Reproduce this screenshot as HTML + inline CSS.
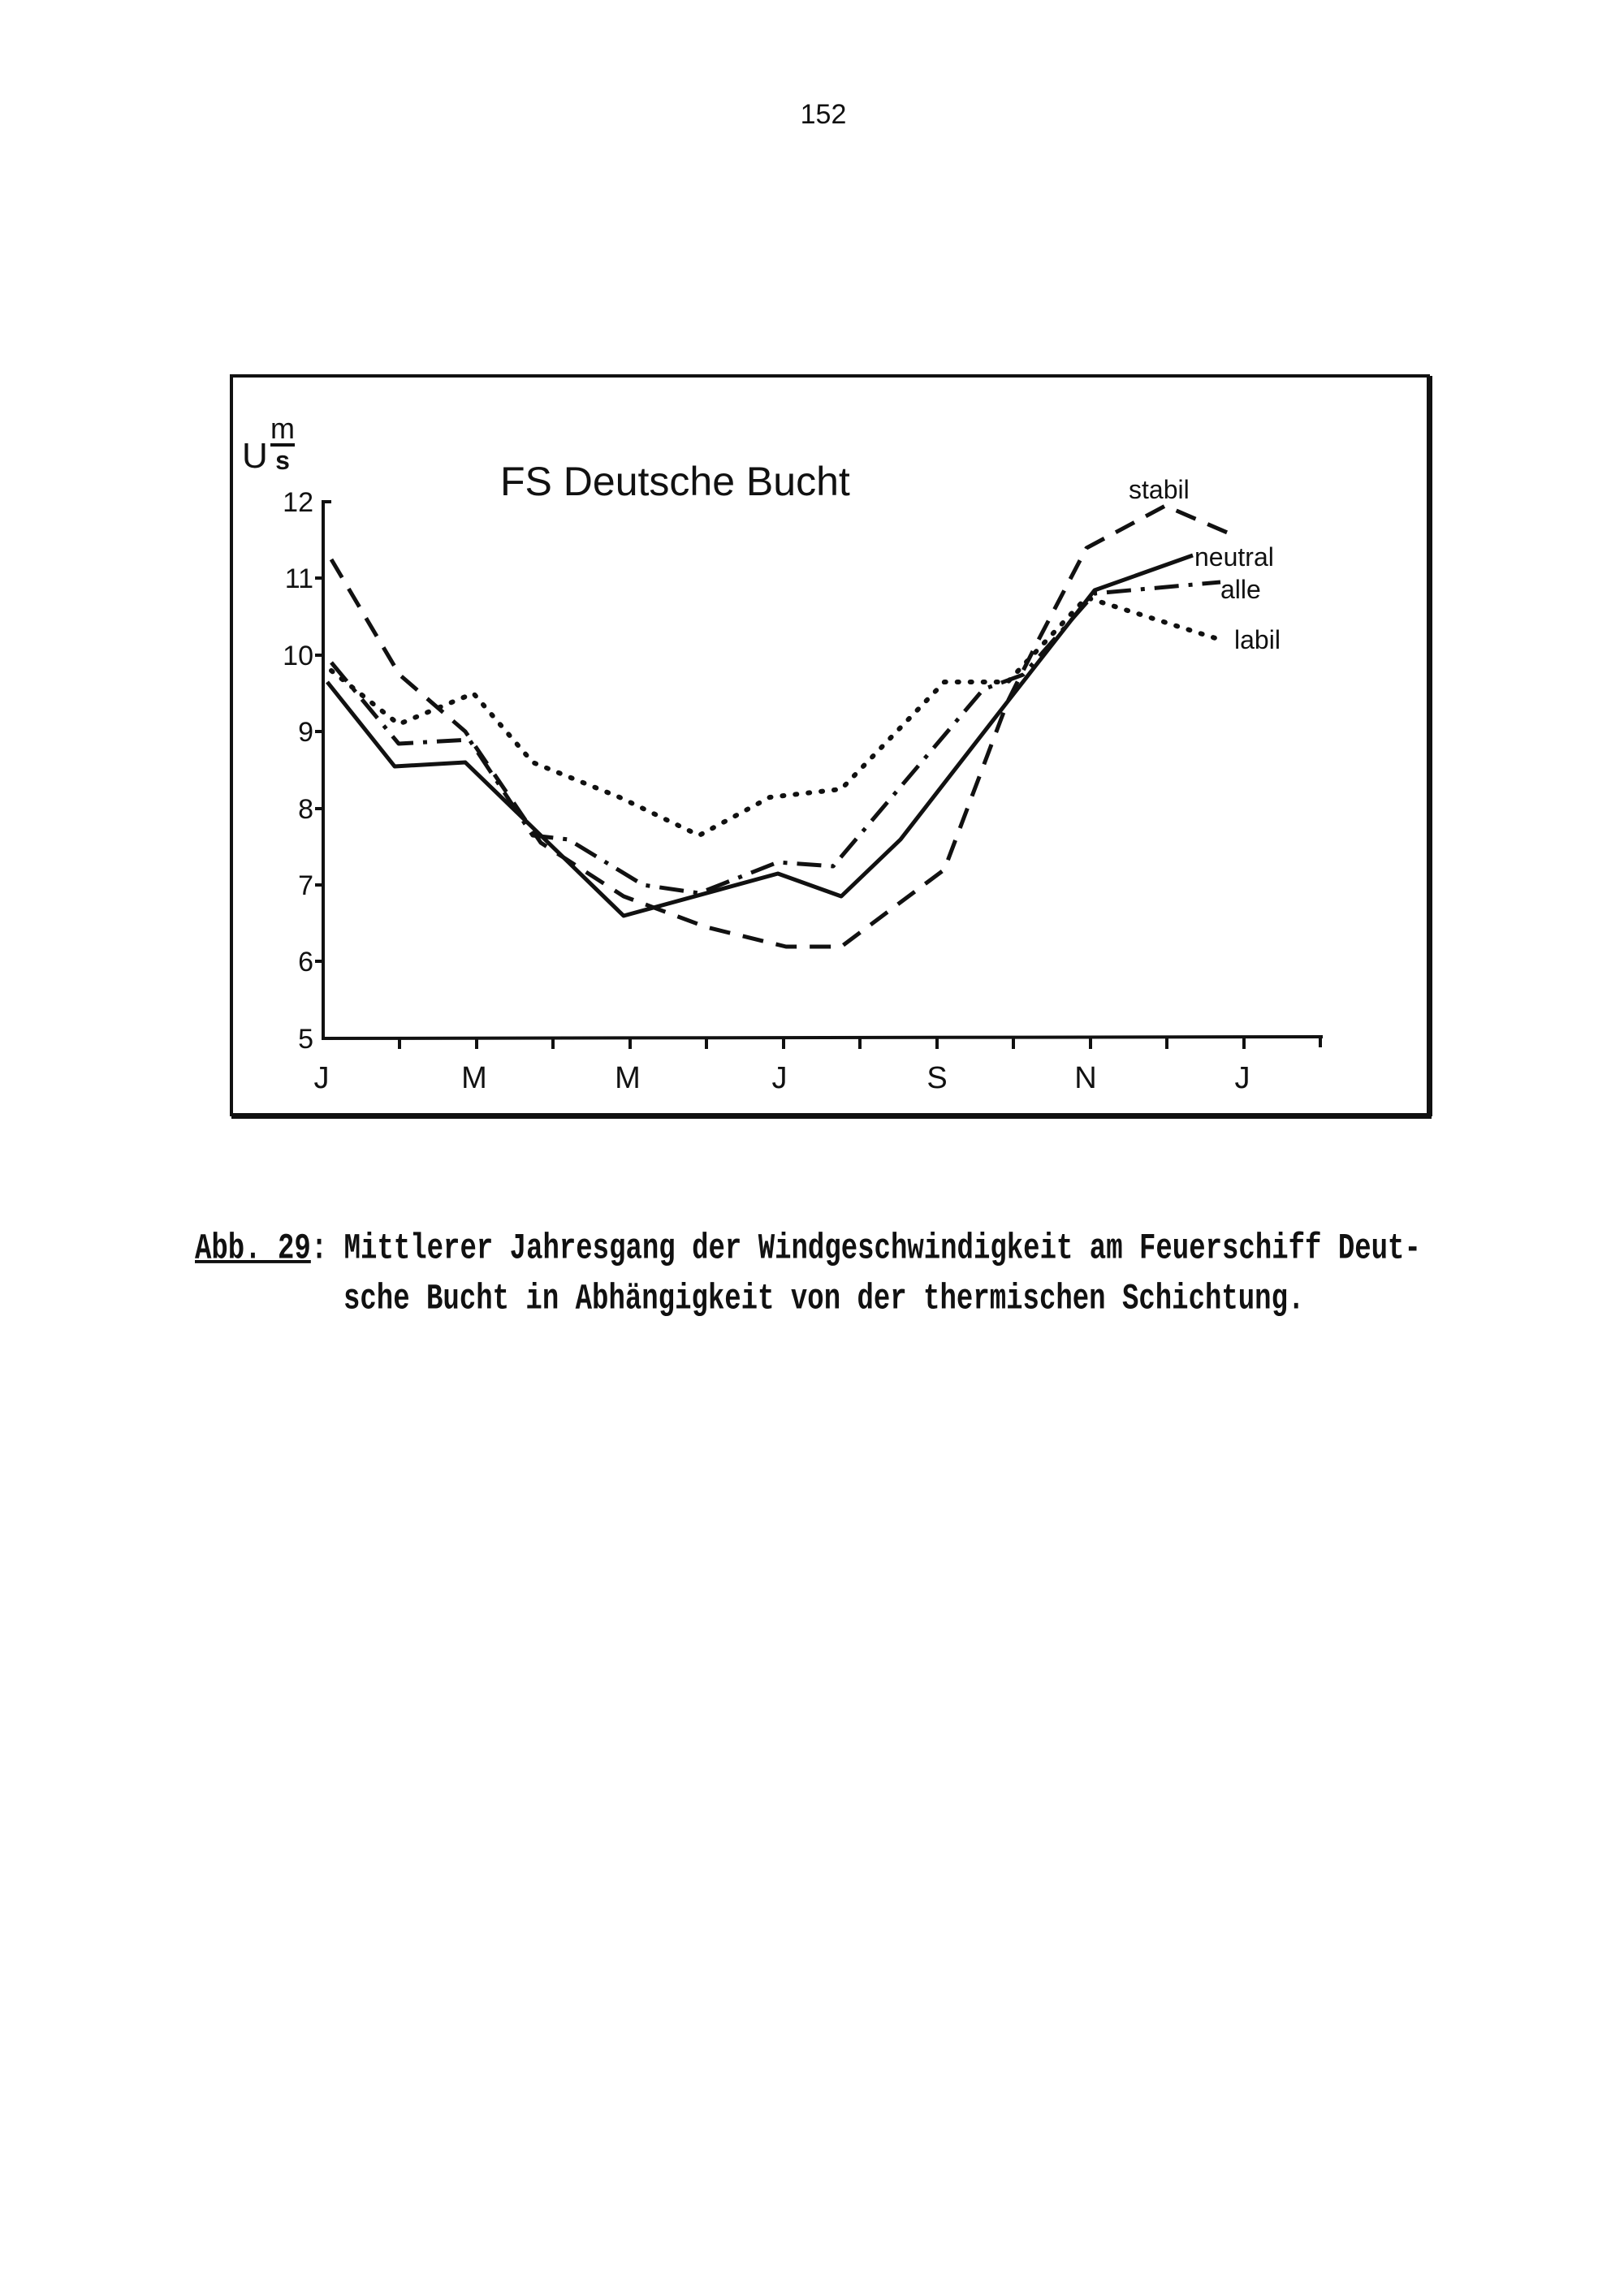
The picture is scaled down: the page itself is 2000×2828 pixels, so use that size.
<!DOCTYPE html>
<html><head><meta charset="utf-8"><style>
html,body{margin:0;padding:0;background:#fff;}
body{width:2000px;height:2828px;position:relative;overflow:hidden;}
.cap{position:absolute;font-family:"Liberation Mono",monospace;font-weight:bold;font-size:34px;color:#111;white-space:pre;transform:scaleY(1.3);transform-origin:left center;}
</style></head><body>
<svg width="2000" height="2828" viewBox="0 0 2000 2828" style="position:absolute;left:0;top:0" font-family="Liberation Sans, sans-serif" fill="#111">
<text x="1014" y="152" font-size="34" text-anchor="middle">152</text>
<rect x="285" y="463" width="1474" height="910" fill="none" stroke="#111" stroke-width="4"/>
<line x1="1761" y1="463" x2="1761" y2="1375" stroke="#111" stroke-width="6"/>
<line x1="285" y1="1375" x2="1763" y2="1375" stroke="#111" stroke-width="6"/>
<text x="616" y="610" font-size="50">FS Deutsche Bucht</text>
<text x="298" y="576" font-size="44">U</text>
<text x="348" y="540" font-size="36" text-anchor="middle">m</text>
<line x1="333" y1="548" x2="363" y2="548" stroke="#111" stroke-width="4"/>
<text x="348" y="578" font-size="32" text-anchor="middle" font-weight="bold">s</text>
<g stroke="#111" stroke-width="4" fill="none">
<line x1="398" y1="616" x2="398" y2="1281"/>
<line x1="396" y1="1279" x2="1629" y2="1277"/>
<line x1="398" y1="618" x2="408" y2="618"/>
<line x1="398" y1="618" x2="398" y2="628"/>
<line x1="388" y1="712" x2="398" y2="712"/>
<line x1="388" y1="807" x2="398" y2="807"/>
<line x1="388" y1="901" x2="398" y2="901"/>
<line x1="388" y1="996" x2="398" y2="996"/>
<line x1="388" y1="1090" x2="398" y2="1090"/>
<line x1="388" y1="1184" x2="398" y2="1184"/>
<line x1="492" y1="1279" x2="492" y2="1292"/>
<line x1="587" y1="1279" x2="587" y2="1292"/>
<line x1="681" y1="1279" x2="681" y2="1292"/>
<line x1="776" y1="1279" x2="776" y2="1292"/>
<line x1="870" y1="1279" x2="870" y2="1292"/>
<line x1="965" y1="1279" x2="965" y2="1292"/>
<line x1="1059" y1="1279" x2="1059" y2="1292"/>
<line x1="1154" y1="1279" x2="1154" y2="1292"/>
<line x1="1248" y1="1279" x2="1248" y2="1292"/>
<line x1="1343" y1="1279" x2="1343" y2="1292"/>
<line x1="1437" y1="1279" x2="1437" y2="1292"/>
<line x1="1532" y1="1279" x2="1532" y2="1292"/>
<line x1="1626" y1="1277" x2="1626" y2="1290"/>
</g>
<g font-size="34" text-anchor="end">
<text x="386" y="630">12</text><text x="386" y="724">11</text><text x="386" y="819">10</text>
<text x="386" y="913">9</text><text x="386" y="1008">8</text><text x="386" y="1102">7</text>
<text x="386" y="1196">6</text><text x="386" y="1291">5</text>
</g>
<g font-size="38" text-anchor="middle">
<text x="396" y="1340">J</text><text x="584" y="1340">M</text><text x="773" y="1340">M</text>
<text x="960" y="1340">J</text><text x="1154" y="1340">S</text><text x="1337" y="1340">N</text><text x="1530" y="1340">J</text>
</g>
<g fill="none" stroke="#111" stroke-width="5" stroke-linejoin="round">
<polyline points="408,689 492,831 573,901 666,1038 768,1104 870,1142 968,1166 1036,1166 1163,1071 1241,864 1279,788 1338,675 1435,623 1523,661" stroke-dasharray="26,16"/>
<polyline points="403,840 486,944 573,939 666,1029 768,1128 958,1076 1036,1104 1109,1034 1241,864 1348,727 1469,684"/>
<polyline points="408,816 491,916 578,911 656,1029 700,1034 792,1090 861,1100 958,1062 1026,1067 1211,849 1260,831 1348,731 1503,717" stroke-dasharray="30,12,5,12"/>
<polyline points="408,826 491,892 583,854 656,939 763,982 861,1029 948,982 1036,972 1163,840 1241,840 1338,736 1503,788" stroke-dasharray="2,14" stroke-linecap="round" stroke-width="6"/>
</g>
<g font-size="32">
<text x="1390" y="614">stabil</text>
<text x="1471" y="697">neutral</text>
<text x="1503" y="737">alle</text>
<text x="1520" y="799">labil</text>
</g>
</svg>
<div class="cap" style="left:240px;top:1520px;"><span style="text-decoration:underline">Abb. 29</span>: Mittlerer Jahresgang der Windgeschwindigkeit am Feuerschiff Deut-</div>
<div class="cap" style="left:423px;top:1582px;">sche Bucht in Abhängigkeit von der thermischen Schichtung.</div>
</body></html>
